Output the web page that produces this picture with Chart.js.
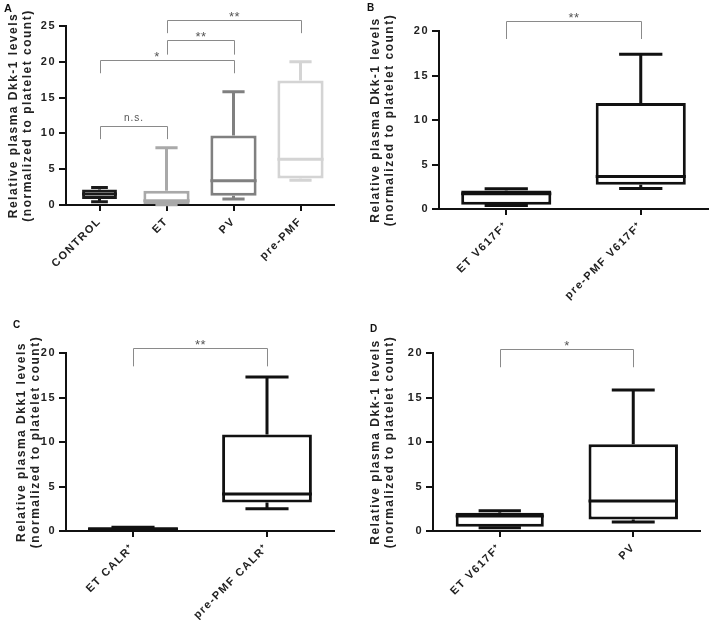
<!DOCTYPE html>
<html lang="en">
<head>
  <meta charset="UTF-8">
  <title>Relative plasma Dkk-1 levels</title>
  <script src="https://cdn.jsdelivr.net/npm/chart.js"></script>
  <style>
    body {
      margin: 0;
      background: #fff;
      font-family: "Liberation Sans", Arial, sans-serif;
    }
    #figure {
      position: relative;
      width: 709px;
      height: 620px;
    }
    .panel {
      position: absolute;
    }
    .panel canvas {
      display: block;
    }
    .letter {
      position: absolute;
      font-weight: bold;
      font-size: 10px;
      color: #111;
    }
  </style>
</head>
<body>
  <div id="figure">
    <div class="panel" style="left:0;top:0"><canvas id="chartA" width="355" height="310"></canvas></div>
    <div class="panel" style="left:355px;top:0"><canvas id="chartB" width="354" height="310"></canvas></div>
    <div class="panel" style="left:0;top:310px"><canvas id="chartC" width="355" height="310"></canvas></div>
    <div class="panel" style="left:355px;top:310px"><canvas id="chartD" width="354" height="310"></canvas></div>
    <div class="letter" style="left:4px;top:2px;font-size:11px">A</div>
    <div class="letter" style="left:367px;top:2px">B</div>
    <div class="letter" style="left:13px;top:319px">C</div>
    <div class="letter" style="left:370px;top:323px">D</div>
  </div>

  <script>
    // ---- data (box plot stats: min, Q1, median, Q3, max) ----
    const labelsA = ['CONTROL', 'ET', 'PV', 'pre-PMF'];
    const minA = [0.45, 0.05, 0.85, 3.45];
    const q1A = [0.85, 0.1, 1.3, 3.7];
    const medA = [1.55, 0.6, 3.4, 6.4];
    const q3A = [2.15, 2.0, 9.7, 17.4];
    const maxA = [2.45, 8.0, 15.8, 20.0];
    const bracketsA = [
      { from: 0, to: 1, level: 11.1, drop: 1.9, text: 'n.s.' },
      { from: 0, to: 2, level: 20.3, drop: 1.9, text: '*', at: 0.86 },
      { from: 1, to: 2, level: 23.0, drop: 2.0, text: '**' },
      { from: 1, to: 3, level: 25.8, drop: 1.8, text: '**' }
    ];

    const labelsB = ['ET V617F⁺', 'pre-PMF V617F⁺'];
    const minB = [0.4, 2.3];
    const q1B = [0.48, 2.72];
    const medB = [1.7, 3.65];
    const q3B = [2.08, 11.9];
    const maxB = [2.28, 17.4];
    const bracketsB = [{ from: 0, to: 1, level: 21.1, drop: 2.0, text: '**' }];

    const labelsC = ['ET CALR⁺', 'pre-PMF CALR⁺'];
    const minC = [0.05, 2.5];
    const q1C = [0.1, 3.2];
    const medC = [0.25, 4.15];
    const q3C = [0.35, 10.85];
    const maxC = [0.42, 17.3];
    const bracketsC = [{ from: 0, to: 1, level: 20.6, drop: 2.1, text: '**' }];

    const labelsD = ['ET V617F⁺', 'PV'];
    const minD = [0.37, 1.0];
    const q1D = [0.48, 1.3];
    const medD = [1.68, 3.37];
    const q3D = [2.06, 9.74];
    const maxD = [2.28, 15.85];
    const bracketsD = [{ from: 0, to: 1, level: 20.45, drop: 2.05, text: '*' }];

    // canvas letter spacing (the figure uses wide tracking)
    const spacing = {
      id: 'spacing',
      beforeUpdate(chart) { chart.ctx.letterSpacing = '1.5px'; },
      beforeDraw(chart) { chart.ctx.letterSpacing = '1.5px'; }
    };

    // whiskers, caps and median line on top of the floating bars
    const whiskers = {
      id: 'whiskers',
      afterDatasetsDraw(chart) {
        const ctx = chart.ctx;
        const y = chart.scales.y;
        chart.data.datasets.forEach((ds, di) => {
          const s = ds.stats;
          const el = chart.getDatasetMeta(di).data[s.index];
          if (!el) return;
          const x = el.x, w = el.width, cap = w * ds.capWidth / 2;
          ctx.save();
          ctx.strokeStyle = ds.borderColor;
          ctx.lineWidth = 3;
          ctx.lineCap = 'butt';
          ctx.beginPath();
          // upper whisker + cap
          ctx.moveTo(x, y.getPixelForValue(s.q3));
          ctx.lineTo(x, y.getPixelForValue(s.max));
          ctx.moveTo(x - cap, y.getPixelForValue(s.max));
          ctx.lineTo(x + cap, y.getPixelForValue(s.max));
          // lower whisker + cap
          ctx.moveTo(x, y.getPixelForValue(s.q1));
          ctx.lineTo(x, y.getPixelForValue(s.min));
          ctx.moveTo(x - cap, y.getPixelForValue(s.min));
          ctx.lineTo(x + cap, y.getPixelForValue(s.min));
          // median
          ctx.moveTo(x - w / 2, y.getPixelForValue(s.med));
          ctx.lineTo(x + w / 2, y.getPixelForValue(s.med));
          ctx.stroke();
          ctx.restore();
        });
      }
    };

    // significance brackets (one plugin per chart, list kept in closure)
    function bracketPlugin(list) {
      return {
        id: 'brackets',
        afterDraw(chart) {
          const ctx = chart.ctx;
          const xs = chart.scales.x, ys = chart.scales.y;
          list.forEach(b => {
            const x1 = Math.round(xs.getPixelForValue(b.from)) + 0.5;
            const x2 = Math.round(xs.getPixelForValue(b.to)) + 0.5;
            const yl = Math.round(ys.getPixelForValue(b.level)) + 0.5;
            const yd = ys.getPixelForValue(b.level - b.drop);
            ctx.save();
            ctx.strokeStyle = '#8a8a8a';
            ctx.lineWidth = 1;
            ctx.beginPath();
            ctx.moveTo(x1, yd);
            ctx.lineTo(x1, yl);
            ctx.lineTo(x2, yl);
            ctx.lineTo(x2, yd);
            ctx.stroke();
            const ns = b.text === 'n.s.';
            ctx.fillStyle = '#555';
            ctx.font = (ns ? '10px' : '13px') + ' "Liberation Sans", Arial, sans-serif';
            ctx.letterSpacing = ns ? '1px' : '0.5px';
            ctx.textAlign = 'center';
            ctx.textBaseline = 'alphabetic';
            const tx = typeof b.at === 'number' ? xs.getPixelForValue(b.at) : (x1 + x2) / 2;
            ctx.fillText(b.text, tx, yl - (ns ? 6 : 0));
            ctx.restore();
          });
        }
      };
    }

    function makePanel(id, p) {
      const datasets = p.labels.map((lab, i) => ({
        data: p.labels.map((_, j) => (j === i ? [p.q1[i], p.q3[i]] : null)),
        stats: { index: i, min: p.min[i], q1: p.q1[i], med: p.med[i], q3: p.q3[i], max: p.max[i] },
        grouped: false,
        barPercentage: p.boxWidth[i],
        categoryPercentage: 1,
        capWidth: 0.48,
        backgroundColor: '#fff',
        borderColor: p.colors[i],
        borderWidth: 3,
        borderSkipped: false
      }));

      return new Chart(document.getElementById(id), {
        type: 'bar',
        data: { labels: p.labels, datasets: datasets },
        options: {
          responsive: false,
          animation: false,
          layout: { padding: { top: p.top, right: p.right, left: 0, bottom: 0 } },
          plugins: {
            legend: { display: false },
            tooltip: { enabled: false }
          },
          scales: {
            x: {
              offset: true,
              grid: { offset: false, drawOnChartArea: false, tickLength: 6, color: '#111', lineWidth: 2 },
              border: { color: '#111', width: 2 },
              ticks: { color: '#222', font: { size: 11, weight: 'bold' }, minRotation: 45, maxRotation: 45, padding: 4, autoSkip: false },
              afterFit(s) { s.height = p.bottom; }
            },
            y: {
              min: 0,
              max: p.yMax,
              grid: { drawOnChartArea: false, tickLength: 7, color: '#111', lineWidth: 2 },
              border: { color: '#111', width: 2 },
              ticks: { stepSize: 5, color: '#222', font: { size: 11, weight: 'bold' }, padding: 3 },
              title: {
                display: true,
                text: [p.title, '(normalized to platelet count)'],
                color: '#222',
                font: { size: 12, weight: 'bold', lineHeight: 1.1 },
                padding: { top: p.titlePad, bottom: 0 }
              },
              afterFit(s) { s.width = p.left; }
            }
          }
        },
        plugins: [spacing, whiskers, bracketPlugin(p.brackets)]
      });
    }

    Chart.defaults.font.family = '"Liberation Sans", Arial, sans-serif';

    makePanel('chartA', {
      labels: labelsA, min: minA, q1: q1A, med: medA, q3: q3A, max: maxA,
      colors: ['#1a1a1a', '#a9a9a9', '#808080', '#d4d4d4'],
      boxWidth: [0.52, 0.69, 0.69, 0.69],
      brackets: bracketsA, yMax: 25, title: 'Relative plasma Dkk-1 levels',
      left: 66, right: 21, top: 26, bottom: 105, titlePad: 7.4
    });
    makePanel('chartB', {
      labels: labelsB, min: minB, q1: q1B, med: medB, q3: q3B, max: maxB,
      colors: ['#111', '#111'],
      boxWidth: [0.67, 0.67],
      brackets: bracketsB, yMax: 20, title: 'Relative plasma Dkk-1 levels',
      left: 84, right: 1, top: 31, bottom: 101, titlePad: 14.4
    });
    makePanel('chartC', {
      labels: labelsC, min: minC, q1: q1C, med: medC, q3: q3C, max: maxC,
      colors: ['#111', '#111'],
      boxWidth: [0.67, 0.67],
      brackets: bracketsC, yMax: 20, title: 'Relative plasma Dkk1 levels',
      left: 66, right: 21, top: 43, bottom: 89, titlePad: 15.4
    });
    makePanel('chartD', {
      labels: labelsD, min: minD, q1: q1D, med: medD, q3: q3D, max: maxD,
      colors: ['#111', '#111'],
      boxWidth: [0.66, 0.67],
      brackets: bracketsD, yMax: 20, title: 'Relative plasma Dkk-1 levels',
      left: 78, right: 9, top: 43, bottom: 89, titlePad: 14.4
    });
  </script>
</body>
</html>
